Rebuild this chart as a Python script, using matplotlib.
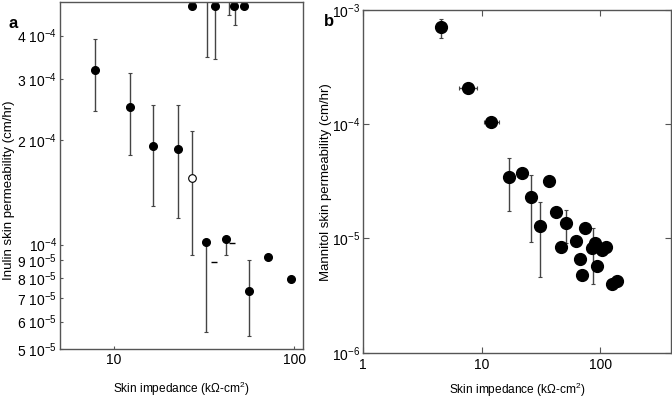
import matplotlib
matplotlib.use("Agg")
import matplotlib.pyplot as plt
from matplotlib.ticker import FixedLocator, FixedFormatter, NullLocator

plt.rcParams["font.family"] = ["Liberation Sans", "DejaVu Sans"]
plt.rcParams["mathtext.fontset"] = "custom"
plt.rcParams["mathtext.rm"] = "Liberation Sans"
plt.rcParams["mathtext.it"] = "Liberation Sans:italic"
plt.rcParams["mathtext.bf"] = "Liberation Sans:bold"

# === PANEL A: inulin ===
inulin_x = [7.8, 12.3, 16.5, 22.6, 32.5, 41.7, 55.8, 71.3, 95.9]
inulin_y = [3.19e-4, 2.49e-4, 1.92e-4, 1.88e-4, 1.02e-4, 1.035e-4, 7.33e-5, 9.2e-5, 7.95e-5]
inulin_lo = [2.43e-4, 1.81e-4, 1.29e-4, 1.196e-4, 5.6e-5, 9.36e-5, 5.46e-5, 9.2e-5, 7.95e-5]
inulin_hi = [3.91e-4, 3.12e-4, 2.52e-4, 2.52e-4, 1.02e-4, 1.035e-4, 9.03e-5, 9.2e-5, 7.95e-5]

# open symbol
inulin_open_x = [27.0]
inulin_open_y = [1.55e-4]
inulin_open_lo = [9.3e-5]
inulin_open_hi = [2.13e-4]

# points sitting at the top of the axis
inulin_top_x = [27.0, 36.3, 46.4, 52.6]
inulin_top_y = [4.86e-4, 4.86e-4, 4.86e-4, 4.86e-4]
# error bars of values above the axis (lower ends only)
inulin_bar_x = [32.9, 36.3, 43.7, 47.0]
inulin_bar_lo = [3.46e-4, 3.42e-4, 4.59e-4, 4.29e-4]

# stray caps
inulin_cap_x = [36.0, 45.0]
inulin_cap_y = [8.9e-5, 1.01e-4]

inulin_ticks = [5e-5, 6e-5, 7e-5, 8e-5, 9e-5, 1e-4, 2e-4, 3e-4, 4e-4]
inulin_labels = ["5 10$^{-5}$", "6 10$^{-5}$", "7 10$^{-5}$", "8 10$^{-5}$", "9 10$^{-5}$",
                 "10$^{-4}$", "2 10$^{-4}$", "3 10$^{-4}$", "4 10$^{-4}$"]

# === PANEL B: mannitol ===
mannitol_x = [4.54, 7.72, 12.1, 17.0, 21.8, 26.2, 37.1, 31.2, 42.8, 46.9, 52.0,
              62.4, 67.4, 71.0, 74.3, 85.3, 91.4, 94.0, 102.9, 112.7, 126.0, 139.6]
mannitol_y = [7.14e-4, 2.06e-4, 1.05e-4, 3.45e-5, 3.72e-5, 2.29e-5, 3.18e-5, 1.29e-5,
              1.69e-5, 8.36e-6, 1.37e-5, 9.48e-6, 6.6e-6, 4.79e-6, 1.24e-5, 8.19e-6,
              9.05e-6, 5.69e-6, 7.92e-6, 8.47e-6, 3.99e-6, 4.27e-6]
mannitol_err_x = [4.54, 17.0, 26.2, 31.2, 52.0, 86.5]
mannitol_err_y = [7.14e-4, 3.45e-5, 2.29e-5, 1.29e-5, 1.37e-5, 8.19e-6]
mannitol_err_lo = [5.72e-4, 1.74e-5, 9.25e-6, 4.59e-6, 9.16e-6, 3.99e-6]
mannitol_err_hi = [8.34e-4, 5.06e-5, 3.61e-5, 2.08e-5, 1.78e-5, 1.23e-5]
mannitol_xerr_y = [2.06e-4, 1.05e-4]
mannitol_xerr_x = [7.72, 12.1]
mannitol_xerr_lo = [6.48, 10.5]
mannitol_xerr_hi = [9.2, 13.9]

mannitol_ticks = [1e-6, 1e-5, 1e-4, 1e-3]
mannitol_labels = ["10$^{-6}$", "10$^{-5}$", "10$^{-4}$", "10$^{-3}$"]

frame = "#555555"
bar_color = "#444444"

fig = plt.figure(figsize=(6.72, 3.98), dpi=100)
ax1 = fig.add_axes([0.0893, 0.1231, 0.3616, 0.8719])
ax2 = fig.add_axes([0.5402, 0.1138, 0.4590, 0.8610])


def yerr_of(y, lo, hi):
    return [[a - b for a, b in zip(y, lo)], [b - a for a, b in zip(y, hi)]]


# --- panel a ---
ax1.errorbar(inulin_x, inulin_y, yerr=yerr_of(inulin_y, inulin_lo, inulin_hi),
             fmt="o", color="black", ecolor=bar_color, elinewidth=1.0,
             capsize=1.5, capthick=0.8, markersize=5.5)
ax1.errorbar(inulin_open_x, inulin_open_y,
             yerr=yerr_of(inulin_open_y, inulin_open_lo, inulin_open_hi),
             fmt="o", mfc="white", mec="black", mew=0.8, ecolor=bar_color,
             elinewidth=1.0, capsize=1.5, capthick=0.8, markersize=5.5)
ax1.vlines(inulin_bar_x, inulin_bar_lo, [6e-4] * len(inulin_bar_x),
           color=bar_color, lw=1.0)
ax1.plot(inulin_bar_x, inulin_bar_lo, "_", color=bar_color, ms=3, mew=0.8)
ax1.plot(inulin_top_x, inulin_top_y, "o", color="black", markersize=5.5, clip_on=False)
ax1.plot(inulin_cap_x, inulin_cap_y, "_", color="black", ms=4, mew=1.0)

ax1.set_xscale("log")
ax1.set_yscale("log")
ax1.set_xlim(5, 112)
ax1.set_ylim(5e-5, 5e-4)
ax1.xaxis.set_major_locator(FixedLocator([10, 100]))
ax1.xaxis.set_major_formatter(FixedFormatter(["10", "100"]))
ax1.xaxis.set_minor_locator(NullLocator())
ax1.yaxis.set_major_locator(FixedLocator(inulin_ticks))
ax1.yaxis.set_major_formatter(FixedFormatter(inulin_labels))
ax1.yaxis.set_minor_locator(NullLocator())
ax1.tick_params(direction="in", length=2.5, width=0.8, color=frame, labelsize=10, pad=3)
ax1.tick_params(axis="y", pad=2)
for s in ax1.spines.values():
    s.set_color(frame)
    s.set_linewidth(1.0)
ax1.set_xlabel("Skin impedance (k\u03a9-cm$^{2}$)", fontsize=8.6)
ax1.xaxis.set_label_coords(0.5, -0.09)
ax1.set_ylabel("Inulin skin permeability (cm/hr)", fontsize=9.5)
ax1.yaxis.set_label_coords(-0.21, 0.458)
ax1.yaxis.label.set_va("center")
fig.text(0.012, 0.93, "a", fontsize=12, fontweight="bold")

# --- panel b ---
ax2.errorbar(mannitol_err_x, mannitol_err_y,
             yerr=yerr_of(mannitol_err_y, mannitol_err_lo, mannitol_err_hi),
             fmt="none", ecolor=bar_color, elinewidth=1.0, capsize=1.5, capthick=0.8)
ax2.errorbar(mannitol_xerr_x, mannitol_xerr_y,
             xerr=yerr_of(mannitol_xerr_x, mannitol_xerr_lo, mannitol_xerr_hi),
             fmt="none", ecolor=bar_color, elinewidth=1.0, capsize=1.5, capthick=0.8)
ax2.plot(mannitol_x, mannitol_y, "o", color="black", markersize=8.5)

ax2.set_xscale("log")
ax2.set_yscale("log")
ax2.set_xlim(1, 400)
ax2.set_ylim(1e-6, 1e-3)
ax2.xaxis.set_major_locator(FixedLocator([1, 10, 100]))
ax2.xaxis.set_major_formatter(FixedFormatter(["1", "10", "100"]))
ax2.xaxis.set_minor_locator(NullLocator())
ax2.yaxis.set_major_locator(FixedLocator(mannitol_ticks))
ax2.yaxis.set_major_formatter(FixedFormatter(mannitol_labels))
ax2.yaxis.set_minor_locator(NullLocator())
ax2.tick_params(direction="in", length=4, width=0.8, color=frame, labelsize=10,
                top=True, right=True, pad=4)
ax2.tick_params(axis="y", pad=2)
for s in ax2.spines.values():
    s.set_color(frame)
    s.set_linewidth(1.0)
ax2.set_xlabel("Skin impedance (k\u03a9-cm$^{2}$)", fontsize=8.6)
ax2.xaxis.set_label_coords(0.5, -0.083)
ax2.set_ylabel("Mannitol skin permeability (cm/hr)", fontsize=9.5)
ax2.yaxis.set_label_coords(-0.12, 0.498)
ax2.yaxis.label.set_va("center")
fig.text(0.482, 0.935, "b", fontsize=12, fontweight="bold")

fig.savefig("out.png", dpi=100)
